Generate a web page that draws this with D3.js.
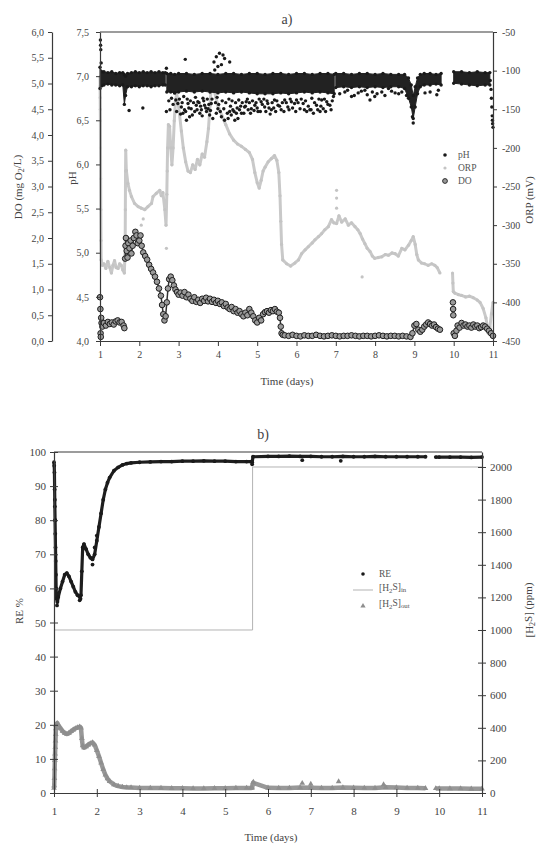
<!DOCTYPE html>
<html><head><meta charset="utf-8">
<script src="https://cdn.jsdelivr.net/npm/d3@7"></script>
<style>
body{margin:0;background:#fff;}
svg{display:block;}
svg text{font-family:"Liberation Serif","Times New Roman",Times,serif;}
</style></head><body>
<svg id="c" width="537" height="844"></svg>
<script>
// ---------------- DATA ----------------
const dayTicks = [1,2,3,4,5,6,7,8,9,10,11];
const doTicks = [0,0.5,1,1.5,2,2.5,3,3.5,4,4.5,5,5.5,6];
const phTicks = [4,4.5,5,5.5,6,6.5,7,7.5];
const orpTicks = [-450,-400,-350,-300,-250,-200,-150,-100,-50];
const reTicks = [0,10,20,30,40,50,60,70,80,90,100];
const ppmTicks = [0,200,400,600,800,1000,1200,1400,1600,1800,2000];

// pH dense band (upper / lower edge of the dot cloud); null = gap
const phTime = [1.00,1.05,1.10,1.20,1.30,1.40,1.50,1.58,1.62,1.65,1.70,1.80,1.90,2.00,2.10,2.20,2.30,2.40,2.50,2.60,2.66,2.68,
  2.70,2.80,2.90,3.00,3.20,3.40,3.60,3.80,4.00,4.20,4.40,4.60,4.80,5.00,5.20,5.40,5.60,5.80,6.00,6.20,6.40,6.60,6.80,6.96,6.98,
  7.00,7.20,7.40,7.60,7.80,8.00,8.20,8.40,8.60,8.75,8.85,8.92,8.97,9.02,9.08,9.15,9.25,9.40,9.55,9.68,9.70,
  10.00,10.20,10.40,10.60,10.80,10.92];
const phHigh = [7.10,7.05,7.05,7.04,7.05,7.03,7.04,7.04,7.02,7.00,7.03,7.04,7.05,7.04,7.05,7.04,7.05,7.04,7.05,7.04,7.04,null,
  7.03,7.03,7.02,7.03,7.03,7.02,7.03,7.03,7.02,7.03,7.03,7.02,7.03,7.03,7.02,7.03,7.03,7.02,7.03,7.03,7.02,7.03,7.03,7.02,null,
  7.03,7.03,7.02,7.03,7.03,7.02,7.03,7.02,7.02,7.02,6.98,6.90,6.78,6.88,6.98,7.02,7.03,7.03,7.02,7.03,null,
  7.05,7.05,7.04,7.05,7.04,7.04];
const phLow = [6.86,6.89,6.90,6.91,6.90,6.90,6.89,6.90,6.68,6.78,6.88,6.88,6.89,6.88,6.89,6.89,6.88,6.89,6.89,6.90,6.90,null,
  6.82,6.82,6.81,6.82,6.83,6.82,6.83,6.82,6.81,6.82,6.81,6.82,6.81,6.80,6.80,6.80,6.81,6.80,6.81,6.82,6.81,6.82,6.81,6.80,null,
  6.87,6.88,6.87,6.88,6.87,6.88,6.87,6.88,6.88,6.86,6.75,6.65,6.52,6.65,6.80,6.88,6.90,6.90,6.91,6.90,null,
  6.92,6.91,6.90,6.89,6.90,6.90];
// pH scattered readings outside the band
const phDotT = [1.01,1.015,1.02,1.03,1.74,2.09,2.69,2.69,3.17,3.20,
  3.90,3.96,4.04,4.13,4.17,4.30,4.00,3.92,4.09,
  2.90,2.98,3.07,3.11,3.15,3.24,3.28,3.32,3.41,3.45,3.49,3.54,3.58,3.62,3.66,3.71,3.75,3.79,3.83,3.87,3.96,4.00,4.09,4.17,4.26,4.30,4.34,4.38,4.43,4.47,4.51,4.55,4.60,4.68,4.72,4.77,4.85,4.94,5.02,5.10,5.19,5.27,5.36,5.44,5.53,5.61,5.70,5.78,5.87,5.95,
  6.00,6.09,6.17,6.26,6.34,6.43,6.51,6.60,6.68,6.77,6.85,6.94,6.39,6.64,
  7.23,7.40,7.57,7.74,7.87,7.99,8.17,8.34,8.51,8.68,8.97,8.95,9.27,9.40,9.57,9.61,
  10.93,10.95,10.96,10.97,10.98,10.985,10.99,11.00];
const phDotV = [7.41,7.35,7.30,7.15,6.61,6.64,6.60,7.09,7.19,6.50,
  7.16,7.22,7.26,7.24,7.20,7.16,7.11,7.07,7.13,
  6.81,6.69,6.65,6.58,6.62,6.69,6.54,6.63,6.60,6.67,6.71,6.58,6.62,6.75,6.67,6.60,6.63,6.56,6.69,6.52,6.58,6.63,6.54,6.50,6.52,6.60,6.56,6.62,6.50,6.58,6.52,6.62,6.58,6.65,6.71,6.62,6.63,6.67,6.60,6.71,6.65,6.69,6.62,6.73,6.67,6.62,6.73,6.65,6.71,6.69,
  6.73,6.63,6.69,6.60,6.62,6.58,6.67,6.60,6.63,6.71,6.67,6.77,6.75,6.73,
  6.82,6.77,6.81,6.84,6.73,6.77,6.82,6.86,6.81,6.82,6.47,6.54,6.81,6.82,6.79,6.84,
  6.95,6.85,6.75,6.65,6.55,6.50,6.46,6.42];
// further scattered pH readings, days 2.7 - 8.8
const phDot2T = [2.75,2.78,2.82,2.86,2.93,2.95,3.02,3.05,3.09,3.13,3.18,3.22,3.26,3.30,3.35,3.38,3.43,3.47,3.52,3.56,3.60,3.64,3.69,3.73,3.77,3.81,3.85,3.94,3.98,
  4.02,4.06,4.11,4.15,4.20,4.24,4.28,4.32,4.36,4.41,4.45,4.49,4.53,4.58,4.62,4.66,4.70,4.75,4.80,4.83,4.88,4.92,4.97,
  5.00,5.05,5.08,5.13,5.17,5.22,5.25,5.30,5.33,5.38,5.42,5.47,5.50,5.57,5.64,5.68,5.74,5.81,5.84,5.90,5.98,
  6.04,6.12,6.20,6.23,6.30,6.37,6.46,6.54,6.57,6.62,6.71,6.74,6.80,6.88,6.91,
  7.10,7.30,7.47,7.65,7.80,7.93,8.05,8.25,8.42,8.60,8.80];
const phDot2V = [6.72,6.62,6.75,6.68,6.73,6.60,6.74,6.57,6.70,6.77,6.60,6.74,6.64,6.72,6.56,6.70,6.76,6.62,6.70,6.66,6.55,6.72,6.64,6.74,6.68,6.61,6.74,6.70,6.76,
  6.68,6.60,6.72,6.63,6.70,6.58,6.74,6.66,6.72,6.60,6.70,6.64,6.73,6.66,6.70,6.58,6.66,6.74,6.70,6.58,6.72,6.61,6.70,
  6.64,6.74,6.60,6.68,6.74,6.60,6.72,6.64,6.57,6.70,6.64,6.60,6.72,6.66,6.70,6.60,6.70,6.62,6.74,6.64,6.60,
  6.70,6.74,6.62,6.72,6.66,6.62,6.70,6.62,6.74,6.66,6.74,6.60,6.68,6.62,6.72,
  6.80,6.84,6.78,6.83,6.79,6.82,6.80,6.78,6.83,6.80,6.78];

// ORP (mV); null = gap
const orpT = [1.000,1.005,1.010,1.013,1.016,1.020,1.025,1.030,1.06,1.10,1.15,1.20,1.25,1.29,1.33,1.37,1.41,1.46,1.50,1.54,1.58,1.62,
  1.640,1.645,1.650,1.655,1.67,1.71,1.75,1.80,1.88,1.97,2.05,2.14,2.22,2.31,2.35,2.43,2.52,2.56,2.60,2.65,2.68,
  2.70,2.71,2.72,2.74,2.77,2.80,2.83,2.86,2.89,2.92,2.95,2.98,3.02,3.07,3.12,3.18,3.24,3.30,3.36,3.42,3.48,3.54,3.60,3.66,3.72,3.76,3.80,3.83,3.86,3.90,3.95,
  4.00,4.10,4.20,4.30,4.40,4.50,4.60,4.70,4.80,4.88,4.94,5.00,5.05,5.10,5.15,5.20,5.28,5.36,5.44,5.50,5.55,5.58,5.60,5.62,5.65,5.75,5.85,5.96,
  6.05,6.13,6.22,6.30,6.40,6.47,6.56,6.64,6.72,6.81,6.89,6.95,7.02,7.08,7.15,7.24,7.32,7.40,7.49,7.56,7.62,7.68,7.74,7.80,7.87,7.93,7.99,
  8.08,8.17,8.26,8.34,8.43,8.51,8.59,8.68,8.76,8.85,8.92,8.97,9.02,9.06,9.10,9.18,9.26,9.35,9.44,9.52,9.58,9.65,9.80,
  9.97,9.98,9.99,10.03,10.12,10.20,10.30,10.40,10.50,10.60,10.67,10.75,10.82,10.88,10.92,10.96,11.00];
const orpV = [-108,-135,-165,-200,-240,-280,-320,-345,-352,-350,-356,-347,-355,-362,-352,-346,-355,-356,-350,-352,-358,-362,
  -330,-280,-230,-203,-229,-246,-255,-263,-272,-276,-278,-280,-276,-272,-263,-259,-255,-262,-258,-280,-300,
  -260,-230,-200,-170,-172,-200,-222,-200,-165,-140,-130,-138,-155,-178,-200,-218,-230,-232,-222,-228,-215,-222,-208,-212,-192,-175,-145,-120,-116,-125,-135,
  -145,-158,-170,-182,-190,-195,-198,-202,-206,-215,-232,-245,-252,-242,-230,-225,-218,-214,-210,-216,-232,-262,-295,-325,-345,-350,-353,-349,
  -345,-337,-332,-328,-323,-319,-315,-311,-306,-302,-293,-297,-298,-288,-296,-292,-300,-297,-302,-306,-311,-318,-324,-330,-334,-340,-343,
  -342,-341,-338,-339,-336,-337,-340,-330,-332,-326,-320,-315,-325,-338,-345,-349,-350,-352,-350,-352,-355,-362,null,
  -362,-375,-386,-388,-390,-391,-393,-392,-394,-397,-400,-408,-420,-440,-432,-415,-400];
const orpDotT = [2.05,2.10,2.69,7.02,7.02,7.02,7.67,1.005,1.01];
const orpDotV = [-300,-292,-330,-255,-265,-278,-367,-120,-150];

// DO (mg O2/L)
const doT = [1.00,1.01,1.015,1.02,1.03,1.04,1.06,1.10,1.15,1.20,1.25,1.30,1.35,1.40,1.45,1.50,1.55,1.60,1.62,
  1.64,1.65,1.66,1.68,1.70,1.72,1.75,1.78,1.80,1.83,1.86,1.90,1.93,1.96,2.00,2.03,2.06,2.10,2.15,2.20,2.25,2.30,2.35,2.40,2.45,2.50,2.55,2.58,2.61,2.64,2.67,
  2.70,2.73,2.76,2.80,2.84,2.88,2.92,2.96,3.00,3.05,3.10,3.15,3.20,3.25,3.30,3.35,3.40,3.45,3.50,3.55,3.60,3.65,3.70,3.75,3.80,3.85,3.90,3.95,
  4.00,4.05,4.10,4.15,4.20,4.25,4.30,4.35,4.40,4.45,4.50,4.55,4.60,4.65,4.70,4.75,4.80,4.85,4.90,4.95,5.00,5.05,5.10,5.15,5.20,5.25,5.30,5.35,5.40,5.45,5.50,5.55,5.58,5.60,5.62,5.65,
  5.70,5.80,5.90,6.00,6.10,6.20,6.30,6.40,6.50,6.60,6.70,6.80,6.90,7.00,7.10,7.20,7.30,7.40,7.50,7.60,7.70,7.80,7.90,8.00,8.10,8.20,8.30,8.40,8.50,8.60,8.70,8.80,8.90,
  8.95,9.00,9.05,9.10,9.15,9.20,9.25,9.30,9.35,9.40,9.45,9.50,9.55,9.60,9.65,
  9.98,9.985,9.99,10.00,10.03,10.07,10.10,10.15,10.20,10.25,10.30,10.35,10.40,10.45,10.50,10.55,10.60,10.65,10.70,10.75,10.80,10.85,10.90,10.95,11.00];
const doV = [0.85,0.62,0.15,0.08,0.45,0.35,0.28,0.35,0.30,0.37,0.33,0.36,0.32,0.38,0.40,0.36,0.37,0.30,0.25,
  1.60,1.85,2.00,1.75,1.62,1.90,1.80,1.95,1.70,1.85,2.00,2.12,2.05,1.90,1.95,2.05,1.85,1.72,1.65,1.58,1.48,1.40,1.33,1.25,1.15,1.02,0.88,0.70,0.52,0.40,0.48,
  0.75,1.02,1.20,1.25,1.18,1.08,1.00,0.95,0.90,0.94,0.88,0.95,0.85,0.90,0.82,0.78,0.85,0.76,0.80,0.74,0.82,0.78,0.84,0.77,0.82,0.76,0.80,0.74,
  0.78,0.72,0.75,0.68,0.72,0.65,0.62,0.66,0.58,0.62,0.55,0.58,0.52,0.48,0.55,0.50,0.62,0.55,0.48,0.40,0.36,0.45,0.40,0.52,0.56,0.58,0.55,0.60,0.58,0.62,0.57,0.55,0.45,0.28,0.15,0.12,
  0.11,0.10,0.12,0.10,0.09,0.11,0.10,0.10,0.12,0.10,0.09,0.10,0.11,0.10,0.09,0.10,0.10,0.11,0.10,0.09,0.10,0.10,0.09,0.10,0.11,0.10,0.09,0.10,0.10,0.09,0.10,0.09,0.08,
  0.15,0.30,0.33,0.22,0.18,0.22,0.28,0.32,0.36,0.33,0.30,0.32,0.27,0.24,0.22,
  0.75,0.62,0.50,0.15,0.10,0.20,0.30,0.26,0.35,0.30,0.32,0.28,0.30,0.26,0.32,0.28,0.30,0.25,0.27,0.30,0.28,0.24,0.20,0.15,0.10];

// Panel b: removal efficiency (%) and outlet H2S (ppm); null = gap
const reT = [1.000,1.005,1.010,1.015,1.020,1.025,1.030,1.035,1.040,1.045,1.050,1.06,1.08,1.10,1.15,1.20,1.25,1.30,1.35,1.40,1.45,1.50,1.55,1.60,1.63,1.65,1.67,1.70,1.75,1.80,1.85,1.90,1.95,
  2.00,2.05,2.10,2.15,2.20,2.25,2.30,2.40,2.50,2.60,2.70,2.80,3.00,3.25,3.50,3.75,4.00,4.25,4.50,4.75,5.00,5.25,5.50,5.60,5.63,
  5.65,6.00,6.25,6.50,6.75,7.00,7.25,7.50,7.75,8.00,8.25,8.50,8.75,9.00,9.25,9.50,9.68,9.80,
  9.92,10.00,10.25,10.50,10.75,11.00];
const reV = [97,96,94,89,84,80,76,72,68,64,60,57,56,57.5,60,62,64,64.5,63.5,62,60.5,59,58,57.5,58,65,72,73,71.5,70,69,68.5,70,
  74,78,82,86,89,91,92.5,94.5,95.5,96.2,96.6,96.8,97.0,97.1,97.2,97.2,97.3,97.3,97.4,97.3,97.3,97.2,97.2,97.2,97.0,
  98.6,98.7,98.7,98.8,98.7,98.7,98.6,98.6,98.7,98.6,98.6,98.7,98.6,98.6,98.6,98.6,98.6,null,
  98.5,98.5,98.5,98.5,98.4,98.5];
const reDotT = [5.63,6.80,7.70,1.02,1.03,1.60,1.90,1.95,2.00,1.07,1.62];
const reDotV = [96.4,97.6,97.4,86,80,56.5,67,72,75.5,55,57];

const outT = reT;
const outV = [30,45,90,150,200,240,280,320,360,395,415,425,428,418,398,380,368,362,368,378,388,396,402,406,400,335,290,278,285,296,304,310,295,
  262,225,185,145,112,88,72,52,42,37,34,33,31,30,30,29,29,28,28,29,29,30,31,31,32,
  62,32,30,31,33,32,31,30,33,32,31,30,35,33,31,30,29,null,
  28,28,27,27,26,26];
const outDotT = [5.66,6.80,7.00,7.65,8.70];
const outDotV = [67,60,55,70,52];

const inT = [1,5.64,5.64,11];
const inV = [1000,1000,2000,2000];

// ---------------- DRAW ----------------
const svg = d3.select('#c');
const AX = '#3a3a3a', TXT = '#444';
const zip = (t, v) => t.map((d, i) => ({t: d, v: v[i]}));
const comma = d => d.toFixed(1).replace('.', ',');

function styleAxis(g, fs) {
  g.attr('font-size', fs);
  g.select('.domain').attr('stroke', AX).attr('stroke-width', 1.2);
  g.selectAll('.tick line').attr('stroke', AX);
  g.selectAll('.tick text').attr('fill', TXT);
}
function label(x, y, txt, fs, rot) {
  return svg.append('text').attr('font-size', fs).attr('fill', TXT)
    .attr('text-anchor', 'middle').attr('dy', '0.35em')
    .attr('transform', `translate(${x},${y})` + (rot ? ` rotate(${rot})` : ''))
    .text(txt);
}
function addSubText(t, parts) {
  parts.forEach(p => {
    const s = t.append('tspan').text(p.s);
    if (p.sub) s.attr('font-size', '0.72em').attr('dy', '0.25em');
    if (p.back) s.attr('dy', '-0.25em');
  });
}

// ===== Panel a =====
const xA = d3.scaleLinear().domain([1, 11]).range([100, 493]);
const yPH = d3.scaleLinear().domain([4, 7.5]).range([341, 32]);
const yDO = d3.scaleLinear().domain([0, 6]).range([341, 32]);
const yORP = d3.scaleLinear().domain([-450, -50]).range([341, 32]);

// ORP
const orpData = zip(orpT, orpV);
svg.append('path').datum(orpData)
  .attr('d', d3.line().defined(d => d.v !== null).x(d => xA(d.t)).y(d => yORP(d.v)))
  .attr('fill', 'none').attr('stroke', '#c9c9c9').attr('stroke-width', 3).attr('stroke-linejoin', 'round');
svg.append('g').selectAll('circle').data(orpData.filter(d => d.v !== null).concat(zip(orpDotT, orpDotV)))
  .join('circle').attr('cx', d => xA(d.t)).attr('cy', d => yORP(d.v)).attr('r', 1.6).attr('fill', '#c4c4c4');

// pH band
const phData = phTime.map((t, i) => ({t, hi: phHigh[i], lo: phLow[i]}));
svg.append('path').datum(phData)
  .attr('d', d3.area().defined(d => d.hi !== null).x(d => xA(d.t)).y0(d => yPH(d.lo)).y1(d => yPH(d.hi)))
  .attr('fill', '#222').attr('stroke', '#222').attr('stroke-width', 1).attr('stroke-linejoin', 'round');
const phEdge = phData.filter(d => d.hi !== null);
svg.append('g').selectAll('circle')
  .data(phEdge.map(d => ({t: d.t, v: d.hi})).concat(phEdge.map(d => ({t: d.t, v: d.lo})), zip(phDotT, phDotV), zip(phDot2T, phDot2V)))
  .join('circle').attr('cx', d => xA(d.t)).attr('cy', d => yPH(d.v)).attr('r', 1.7).attr('fill', '#1a1a1a');

// DO
const doData = zip(doT, doV);
svg.append('path').datum(doData.filter(d => d.t >= 1.64 && d.t <= 9.65))
  .attr('d', d3.line().x(d => xA(d.t)).y(d => yDO(d.v)))
  .attr('fill', 'none').attr('stroke', '#333').attr('stroke-width', 1.5);
svg.append('g').selectAll('circle').data(doData)
  .join('circle').attr('cx', d => xA(d.t)).attr('cy', d => yDO(d.v)).attr('r', 2.8)
  .attr('fill', '#9a9a9a').attr('stroke', '#1e1e1e').attr('stroke-width', 1);

// frame & axes
svg.append('line').attr('x1', xA(1)).attr('x2', xA(11)).attr('y1', 32).attr('y2', 32).attr('stroke', AX).attr('stroke-width', 1.2);
svg.append('g').attr('transform', 'translate(0,341)')
  .call(d3.axisBottom(xA).tickValues(dayTicks).tickFormat(d3.format('d')).tickSize(5).tickPadding(5).tickSizeOuter(0))
  .call(styleAxis, 10);
svg.append('g').attr('transform', 'translate(52,0)')
  .call(d3.axisLeft(yDO).tickValues(doTicks).tickFormat(comma).tickSize(4).tickPadding(4).tickSizeOuter(0))
  .call(styleAxis, 10);
svg.append('g').attr('transform', 'translate(100,0)')
  .call(d3.axisLeft(yPH).tickValues(phTicks).tickFormat(comma).tickSize(4).tickPadding(7).tickSizeOuter(0))
  .call(styleAxis, 10);
svg.append('g').attr('transform', 'translate(493,0)')
  .call(d3.axisRight(yORP).tickValues(orpTicks).tickFormat(d => String(d)).tickSize(4).tickPadding(5).tickSizeOuter(0))
  .call(styleAxis, 10);

label(287, 19, 'a)', 14);
addSubText(label(18, 187, '', 11, -90), [{s: 'DO (mg O'}, {s: '2', sub: true}, {s: '/L)', back: true}]);
label(72, 178, 'pH', 11, -90);
label(529, 200, 'ORP (mV)', 11, -90);
label(287, 381, 'Time (days)', 11);

// legend a
const lgA = svg.append('g').attr('font-size', 9.5).attr('fill', '#555');
lgA.append('circle').attr('cx', 445).attr('cy', 155).attr('r', 1.8).attr('fill', '#1a1a1a');
lgA.append('circle').attr('cx', 445).attr('cy', 168).attr('r', 1.6).attr('fill', '#c4c4c4');
lgA.append('circle').attr('cx', 445).attr('cy', 181).attr('r', 2.4).attr('fill', '#9a9a9a').attr('stroke', '#1e1e1e').attr('stroke-width', 0.9);
lgA.append('text').attr('x', 458).attr('y', 158).text('pH');
lgA.append('text').attr('x', 458).attr('y', 171).text('ORP');
lgA.append('text').attr('x', 458).attr('y', 184).text('DO');

// ===== Panel b =====
const xB = d3.scaleLinear().domain([1, 11]).range([54, 482]);
const yRE = d3.scaleLinear().domain([0, 100]).range([793, 452]);
const yPPM = d3.scaleLinear().domain([0, 2092]).range([793, 452]);

// H2S in
svg.append('path').datum(zip(inT, inV))
  .attr('d', d3.line().x(d => xB(d.t)).y(d => yPPM(d.v)))
  .attr('fill', 'none').attr('stroke', '#b3b3b3').attr('stroke-width', 1);

// H2S out
const outData = zip(outT, outV);
svg.append('path').datum(outData)
  .attr('d', d3.line().defined(d => d.v !== null).x(d => xB(d.t)).y(d => yPPM(d.v)))
  .attr('fill', 'none').attr('stroke', '#989898').attr('stroke-width', 4.5).attr('stroke-linejoin', 'round');
svg.append('g').selectAll('path').data(outData.filter(d => d.v !== null).concat(zip(outDotT, outDotV)))
  .join('path').attr('d', d3.symbol(d3.symbolTriangle, 14))
  .attr('transform', d => `translate(${xB(d.t)},${yPPM(d.v)})`).attr('fill', '#8e8e8e');

// RE
const reData = zip(reT, reV);
svg.append('path').datum(reData)
  .attr('d', d3.line().defined(d => d.v !== null).x(d => xB(d.t)).y(d => yRE(d.v)))
  .attr('fill', 'none').attr('stroke', '#1e1e1e').attr('stroke-width', 3.2).attr('stroke-linejoin', 'round');
svg.append('g').selectAll('circle').data(reData.filter(d => d.v !== null).concat(zip(reDotT, reDotV)))
  .join('circle').attr('cx', d => xB(d.t)).attr('cy', d => yRE(d.v)).attr('r', 1.9).attr('fill', '#1a1a1a');

// frame & axes
svg.append('line').attr('x1', xB(1)).attr('x2', xB(11)).attr('y1', 452).attr('y2', 452).attr('stroke', AX).attr('stroke-width', 1.2);
const gxB = svg.append('g').attr('transform', 'translate(0,793)')
  .call(d3.axisBottom(xB).tickValues(dayTicks).tickFormat(d3.format('d')).tickSize(4).tickPadding(10).tickSizeOuter(0))
  .call(styleAxis, 11);
gxB.selectAll('.tick line').attr('y1', -4);
const gyRE = svg.append('g').attr('transform', 'translate(54,0)')
  .call(d3.axisLeft(yRE).tickValues(reTicks).tickFormat(d3.format('d')).tickSize(4).tickPadding(4).tickSizeOuter(0))
  .call(styleAxis, 11);
gyRE.selectAll('.tick line').attr('x1', 4);
const gyP = svg.append('g').attr('transform', 'translate(482,0)')
  .call(d3.axisRight(yPPM).tickValues(ppmTicks).tickFormat(d3.format('d')).tickSize(4).tickPadding(4).tickSizeOuter(0))
  .call(styleAxis, 11);
gyP.selectAll('.tick line').attr('x1', -4);

label(263, 434, 'b)', 14);
label(19, 611, 'RE %', 11, -90);
addSubText(label(529, 610, '', 11, -90), [{s: '[H'}, {s: '2', sub: true}, {s: 'S] (ppm)', back: true}]);
label(271, 837, 'Time (days)', 11);

// legend b
const lgB = svg.append('g').attr('font-size', 9.5).attr('fill', '#555');
lgB.append('circle').attr('cx', 363).attr('cy', 574).attr('r', 1.8).attr('fill', '#1a1a1a');
lgB.append('line').attr('x1', 353).attr('x2', 373).attr('y1', 590).attr('y2', 590).attr('stroke', '#b3b3b3');
lgB.append('path').attr('d', d3.symbol(d3.symbolTriangle, 12)).attr('transform', 'translate(363,606)').attr('fill', '#8e8e8e');
lgB.append('text').attr('x', 379).attr('y', 577).text('RE');
addSubText(lgB.append('text').attr('x', 379).attr('y', 591), [{s: '[H'}, {s: '2', sub: true}, {s: 'S]', back: true}, {s: 'in', sub: true}]);
addSubText(lgB.append('text').attr('x', 379).attr('y', 607), [{s: '[H'}, {s: '2', sub: true}, {s: 'S]', back: true}, {s: 'out', sub: true}]);
</script>
</body></html>
